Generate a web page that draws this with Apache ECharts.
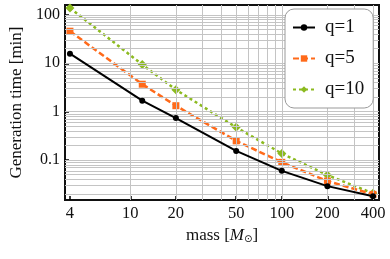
<!DOCTYPE html>
<html>
<head>
<meta charset="utf-8">
<script src="https://cdn.jsdelivr.net/npm/echarts@6/dist/echarts.min.js"></script>
<style>html,body{margin:0;padding:0;background:#fff}#c{width:390px;height:259px}</style>
</head>
<body>
<div id="c"></div>
<script>
var masses = [4, 12, 20, 50, 100, 200, 400];
var q1 = [15.8, 1.69, 0.74, 0.155, 0.060, 0.029, 0.018];
var q5 = [46, 3.7, 1.33, 0.25, 0.09, 0.037, 0.0196];
var q10 = [139, 9.4, 2.84, 0.476, 0.137, 0.049, 0.0206];
var seriesNames = ['q=1', 'q=5', 'q=10'];
var xTicks = [4, 10, 20, 50, 100, 200, 400];
var yTicks = [0.1, 1, 10, 100];
var xGrid = [10, 20, 30, 40, 50, 60, 70, 80, 90, 100, 200, 300, 400];
var yGrid = [0.02,0.03,0.04,0.05,0.06,0.07,0.08,0.09,0.1,0.2,0.3,0.4,0.5,0.6,0.7,0.8,0.9,1,2,3,4,5,6,7,8,9,10,20,30,40,50,60,70,80,90,100];

var FONT = '"Liberation Serif","DejaVu Serif",serif';
function pairs(ys){ return masses.map(function(m,i){return [m, ys[i]];}); }

var gridLines = xGrid.map(function(v){return {xAxis: v};})
  .concat(yGrid.map(function(v){return {yAxis: v};}));

var chart = echarts.init(document.getElementById('c'), null, {renderer: 'canvas'});
chart.setOption({
  animation: false,
  backgroundColor: '#fff',
  grid: {left: 65, top: 5, right: 11, bottom: 59, show: true, borderColor: '#111', borderWidth: 2, backgroundColor: 'transparent'},
  xAxis: {
    type: 'log', logBase: 10, min: 3.71, max: 438,
    axisLine: {show: false},
    splitLine: {show: false},
    axisTick: {show: true, inside: true, length: 4, lineStyle: {color: '#000', width: 1.5}, customValues: xTicks},
    axisLabel: {customValues: xTicks, fontFamily: FONT, fontSize: 16.5, color: '#111', margin: 5,
      formatter: function(v){ return String(Math.round(v)); }},
    name: 'mass [{i|M}{s|⊙}]',
    nameLocation: 'middle', nameGap: 26,
    nameTextStyle: {fontFamily: FONT, fontSize: 17, color: '#111',
      rich: {i: {fontFamily: FONT, fontSize: 17, fontStyle: 'italic', color: '#111'},
             s: {fontFamily: '"DejaVu Sans",sans-serif', fontSize: 10, color: '#111', verticalAlign: 'bottom', padding: [8,0,0,0]}}}
  },
  yAxis: {
    type: 'log', logBase: 10, min: 0.015, max: 160,
    axisLine: {show: false},
    splitLine: {show: false},
    axisTick: {show: true, inside: true, length: 4, lineStyle: {color: '#000', width: 1.5}, customValues: yTicks},
    axisLabel: {customValues: yTicks, fontFamily: FONT, fontSize: 16, color: '#111', margin: 5,
      formatter: function(v){ return v < 1 ? String(+v.toPrecision(2)) : String(Math.round(v)); }},
    name: 'Generation time [min]',
    nameLocation: 'middle', nameGap: 34,
    nameTextStyle: {fontFamily: FONT, fontSize: 17, color: '#111'}
  },
  legend: {
    z: 20,
    orient: 'vertical', left: 285, top: 9,
    data: seriesNames,
    padding: [9, 9, 9, 7], itemGap: 12,
    itemWidth: 22, itemHeight: 8,
    backgroundColor: '#fff', borderColor: '#999', borderWidth: 1, borderRadius: 9,
    textStyle: {fontFamily: FONT, fontSize: 19, color: '#111', padding: [0,0,0,5]}
  },
  series: [
    {type: 'line', name: 'grid', data: [], silent: true, z: 1,
      markLine: {silent: true, symbol: ['none','none'], label: {show: false}, animation: false,
        lineStyle: {color: '#c4c4c4', width: 1, type: 'solid'}, emphasis: {disabled: true},
        data: gridLines}},
    {type: 'line', name: seriesNames[0], data: pairs(q1), z: 5,
      symbol: 'circle', symbolSize: 6, color: '#000',
      lineStyle: {color: '#000', width: 2}},
    {type: 'line', name: seriesNames[1], data: pairs(q5), z: 4,
      symbol: 'rect', symbolSize: 7, color: '#ff6a1a',
      lineStyle: {color: '#ff6a1a', width: 2.5, type: [6, 3]}},
    {type: 'line', name: seriesNames[2], data: pairs(q10), z: 3,
      symbol: 'diamond', symbolSize: 9, color: '#8cba1f',
      lineStyle: {color: '#8cba1f', width: 2.5, type: [3, 3]}}
  ]
});
</script>
</body>
</html>
